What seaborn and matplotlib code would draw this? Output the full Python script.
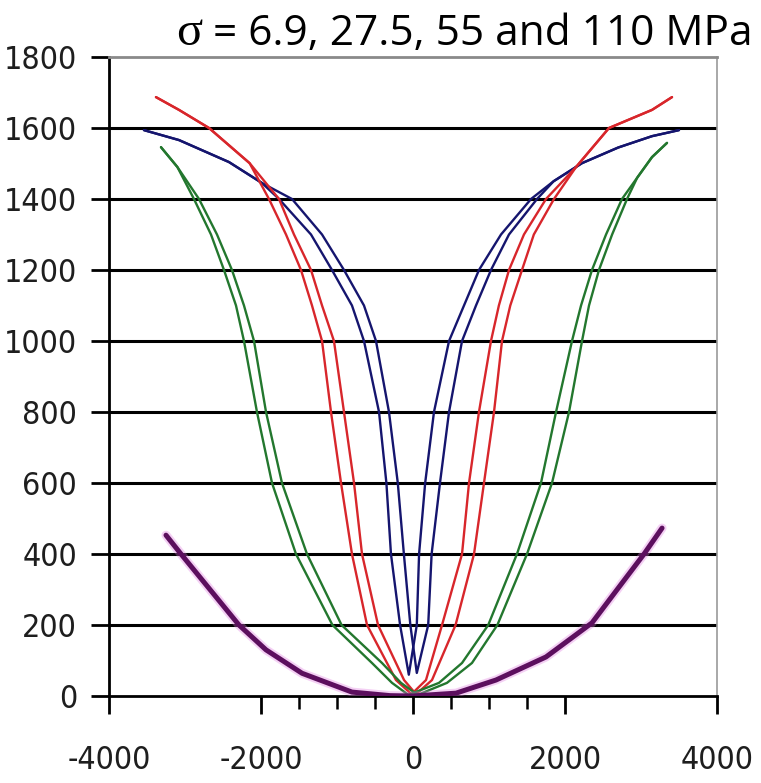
import matplotlib
matplotlib.use("Agg")
import matplotlib.pyplot as plt
import seaborn as sns
import pandas as pd

# Magnetostriction butterfly loops: lambda vs applied field H, one loop per stress level.
# Each loop has a descending-field branch and an ascending-field branch (ordered left to right).
blue_down_h = [-3540, -3079, -2421, -1987, -1763, -1342, -1066, -803, -645, -447, -350, -290, -170, -55,
               50, 80, 160, 276, 474, 671, 868, 1158, 1553, 1850, 2224, 2700, 3145, 3500]
blue_down_l = [1594, 1566, 1504, 1445, 1400, 1300, 1200, 1100, 1000, 800, 600, 400, 200, 60,
               200, 400, 600, 800, 1000, 1100, 1200, 1300, 1400, 1450, 1501, 1545, 1577, 1594]
blue_up_h = [-3540, -3079, -2421, -1987, -1592, -1197, -908, -645, -487, -316, -200, -120, -35, 50,
             200, 245, 355, 474, 645, 829, 1026, 1263, 1632, 1850, 2224, 2700, 3145, 3500]
blue_up_l = [1594, 1566, 1504, 1445, 1400, 1300, 1200, 1100, 1000, 800, 600, 400, 200, 65,
             200, 400, 600, 800, 1000, 1100, 1200, 1300, 1400, 1450, 1501, 1545, 1577, 1594]

red_down_h = [-3382, -3079, -2684, -2150, -1895, -1671, -1474, -1329, -1197, -1079, -947, -803, -605,
              -224, -20, 171, 382, 645, 737, 868, 1026, 1130, 1263, 1460, 1750, 2145, 2579, 3145, 3408]
red_down_l = [1687, 1651, 1600, 1501, 1400, 1300, 1200, 1100, 1000, 800, 600, 400, 200,
              45, 5, 45, 200, 400, 600, 800, 1000, 1100, 1200, 1300, 1400, 1490, 1600, 1651, 1687]
red_up_h = [-3382, -3079, -2684, -2150, -1763, -1566, -1342, -1197, -1040, -908, -776, -671, -460,
            -118, 40, 250, 560, 803, 934, 1066, 1171, 1280, 1434, 1590, 1855, 2145, 2579, 3145, 3408]
red_up_l = [1687, 1651, 1600, 1501, 1400, 1300, 1200, 1100, 1000, 800, 600, 400, 200,
            45, 5, 45, 200, 400, 600, 800, 1000, 1100, 1200, 1300, 1400, 1490, 1600, 1651, 1687]

green_down_h = [-3316, -3100, -2882, -2658, -2487, -2329, -2224, -2053, -1855, -1540, -1060, -540, -276, -60,
                342, 645, 990, 1368, 1684, 1882, 2092, 2211, 2355, 2540, 2750, 2950, 3145, 3342]
green_down_l = [1546, 1490, 1400, 1300, 1200, 1100, 1000, 800, 600, 400, 200, 93, 37, 3,
                37, 93, 200, 400, 600, 800, 1000, 1100, 1200, 1300, 1400, 1460, 1518, 1558]
green_up_h = [-3316, -3100, -2816, -2579, -2382, -2224, -2092, -1934, -1724, -1395, -940, -408, -158, 60,
              447, 776, 1110, 1500, 1829, 2053, 2224, 2316, 2447, 2620, 2816, 2950, 3145, 3342]
green_up_l = [1546, 1490, 1400, 1300, 1200, 1100, 1000, 800, 600, 400, 200, 93, 37, 3,
              37, 93, 200, 400, 600, 800, 1000, 1100, 1200, 1300, 1400, 1460, 1518, 1558]

purple_h = [-3250, -3053, -2290, -1934, -1460, -803, -300, 0, 566, 1092, 1750, 2355, 2750, 3040, 3277]
purple_l = [453, 400, 200, 130, 64, 11, 1, 0, 8, 45, 110, 206, 318, 400, 473]

stress_labels = ["6.9 MPa", "27.5 MPa", "55 MPa", "110 MPa"]
line_colors = ["#15156e", "#d8262b", "#23772e", "#5c0f5e"]

x_major = [-4000, -2000, 0, 2000, 4000]
x_minor = [-1500, -1000, -500, 500, 1000, 1500]
y_ticks = [0, 200, 400, 600, 800, 1000, 1200, 1400, 1600, 1800]
title_sigma = "σ"
title_rest = "= 6.9, 27.5, 55 and 110 MPa"


def branch_frame(h, lam, stress, branch):
    return pd.DataFrame({"H": h, "lam": lam, "stress": stress, "branch": branch,
                         "order": range(len(h))})


loops = pd.concat([
    branch_frame(blue_down_h, blue_down_l, stress_labels[0], "down"),
    branch_frame(blue_up_h, blue_up_l, stress_labels[0], "up"),
    branch_frame(red_down_h, red_down_l, stress_labels[1], "down"),
    branch_frame(red_up_h, red_up_l, stress_labels[1], "up"),
    branch_frame(green_down_h, green_down_l, stress_labels[2], "down"),
    branch_frame(green_up_h, green_up_l, stress_labels[2], "up"),
], ignore_index=True)
high_stress = branch_frame(purple_h, purple_l, stress_labels[3], "down")

sns.set_style("white")
plt.rcParams["font.family"] = ["DejaVu Sans"]

fig = plt.figure(figsize=(7.61, 7.83), dpi=100)
ax = fig.add_axes([109 / 761, 87 / 783, 608 / 761, 639 / 783])

# horizontal rules at each labelled level
for yv in y_ticks[1:-1]:
    ax.axhline(yv, color="black", lw=2.2, zorder=1)

sns.lineplot(data=loops, x="H", y="lam", hue="stress", units="branch",
             estimator=None, sort=False, palette=dict(zip(stress_labels[:3], line_colors[:3])),
             linewidth=1.7, legend=False, ax=ax, zorder=3)
sns.lineplot(data=high_stress, x="H", y="lam", hue="stress", estimator=None, sort=False,
             palette={stress_labels[3]: "#e07ae0"}, linewidth=6.5, alpha=0.35,
             legend=False, ax=ax, zorder=3)
sns.lineplot(data=high_stress, x="H", y="lam", hue="stress", estimator=None, sort=False,
             palette={stress_labels[3]: line_colors[3]}, linewidth=3.6,
             legend=False, ax=ax, zorder=4)

ax.set_xlim(-4000, 4000)
ax.set_ylim(0, 1800)
ax.set_xlabel("")
ax.set_ylabel("")

ax.set_xticks(x_major)
ax.set_xticks(x_minor, minor=True)
ax.set_yticks(y_ticks)
ax.set_xticklabels([str(v) for v in x_major])
ax.set_yticklabels([str(v) for v in y_ticks])

for lab in ax.get_xticklabels() + ax.get_yticklabels():
    lab.set_fontfamily(["DejaVu Sans"])
    lab.set_fontstretch("condensed")
    lab.set_fontsize(23)
    lab.set_color("#1e1e1e")

ax.tick_params(axis="x", which="major", direction="out", length=13, width=2.0,
               color="black", pad=22, bottom=True)
ax.tick_params(axis="x", which="minor", direction="out", length=9, width=1.8,
               color="black", bottom=True)
ax.tick_params(axis="y", which="major", direction="out", length=13, width=2.0,
               color="black", pad=10, left=True)

for side in ["left", "bottom"]:
    ax.spines[side].set_color("black")
    ax.spines[side].set_linewidth(2.0)
ax.spines["top"].set_color("#8a8a8a")
ax.spines["top"].set_linewidth(2.0)
ax.spines["right"].set_color("#9a9a9a")
ax.spines["right"].set_linewidth(1.2)

fig.text(176 / 761, 1 - 45 / 783, title_sigma, family=["Liberation Serif", "DejaVu Serif"],
         fontsize=35, ha="left", va="baseline", color="black")
fig.text(213 / 761, 1 - 45 / 783, title_rest, family=["Open Sans", "DejaVu Sans"],
         fontsize=30.5, ha="left", va="baseline", color="black")

fig.savefig("out.png", dpi=100, facecolor="white")
